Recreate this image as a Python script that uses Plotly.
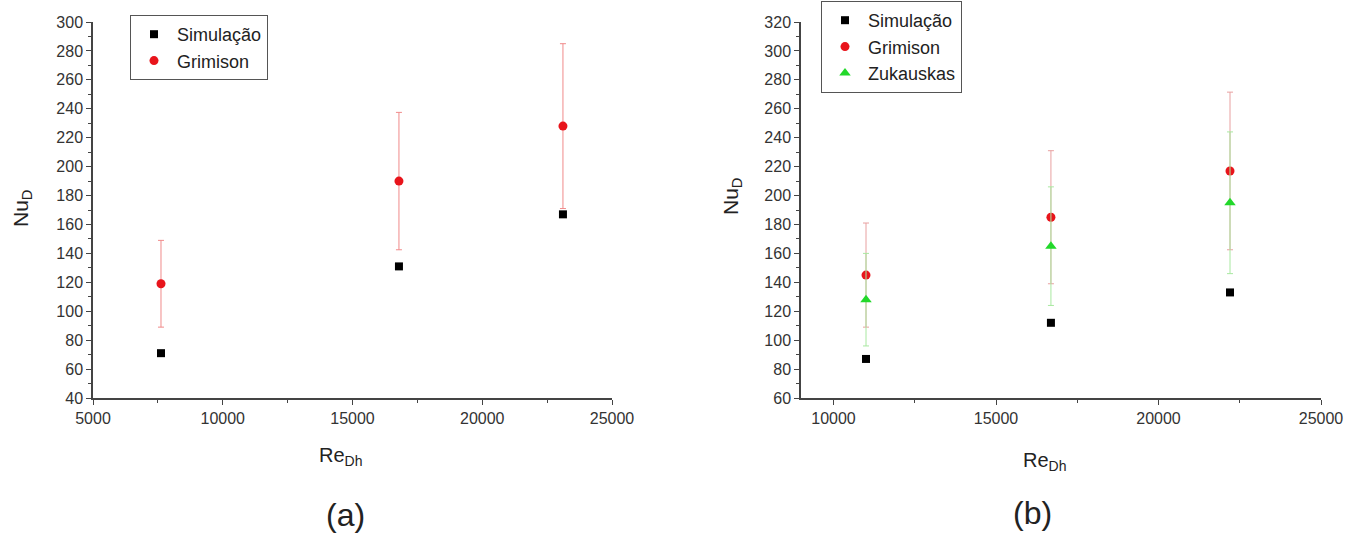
import plotly.graph_objects as go

W, H = 1358, 535

# ---------------- data: panel (a) ----------------
re_a = [7620, 16790, 23110]
sim_a = [71, 131, 167]
grim_a = [119, 190, 228]
grim_a_err = [30, 47.5, 57]

# ---------------- data: panel (b) ----------------
re_b = [11000, 16690, 22200]
sim_b = [87, 112, 133]
grim_b = [145, 185, 217]
grim_b_err = [36, 46, 54.5]
zuk_b = [128, 165, 195]
zuk_b_err = [32, 41, 49]

# tick values / labels
xticks_a = [5000, 10000, 15000, 20000, 25000]
xlabels_a = ["5000", "10000", "15000", "20000", "25000"]
yticks_a = list(range(40, 301, 20))
xticks_b = [10000, 15000, 20000, 25000]
xlabels_b = ["10000", "15000", "20000", "25000"]
yticks_b = list(range(60, 321, 20))

FONT = "Liberation Sans, Arial, sans-serif"
RED = "#e8141b"
GREEN = "#22d82a"

def px_x(p):
    return p / W

def px_y(p):
    return 1 - p / H

fig = go.Figure()

# panel (a)
fig.add_trace(go.Scatter(x=re_a, y=sim_a, mode="markers", name="Simulação",
                         marker=dict(symbol="square", size=8, color="black"),
                         xaxis="x", yaxis="y", legend="legend"))
fig.add_trace(go.Scatter(x=re_a, y=grim_a, mode="markers", name="Grimison",
                         marker=dict(symbol="circle", size=9, color=RED),
                         error_y=dict(type="data", array=grim_a_err, color="#f08a8a",
                                      thickness=1, width=3),
                         xaxis="x", yaxis="y", legend="legend"))

# panel (b)
fig.add_trace(go.Scatter(x=re_b, y=sim_b, mode="markers", name="Simulação",
                         marker=dict(symbol="square", size=8, color="black"),
                         xaxis="x2", yaxis="y2", legend="legend2"))
fig.add_trace(go.Scatter(x=re_b, y=grim_b, mode="markers", name="Grimison",
                         marker=dict(symbol="circle", size=9, color=RED),
                         error_y=dict(type="data", array=grim_b_err, color="#e8a0a0",
                                      thickness=1, width=3),
                         xaxis="x2", yaxis="y2", legend="legend2"))
fig.add_trace(go.Scatter(x=re_b, y=zuk_b, mode="markers", name="Zukauskas",
                         marker=dict(symbol="triangle-up", size=10, color=GREEN),
                         error_y=dict(type="data", array=zuk_b_err, color="#a8e8a0",
                                      thickness=1, width=3),
                         xaxis="x2", yaxis="y2", legend="legend2"))

axis_common = dict(showline=True, linecolor="#444", linewidth=1.5, ticks="outside",
                   ticklen=5, tickcolor="#444", tickwidth=1, showgrid=False, zeroline=False,
                   tickfont=dict(family=FONT, size=16, color="#333"), mirror=False,
                   automargin=False)

legend_common = dict(xanchor="left", yanchor="top", bordercolor="#555", borderwidth=1,
                     bgcolor="white", font=dict(family=FONT, size=18, color="#222"),
                     tracegroupgap=0, itemwidth=36)

fig.update_layout(
    width=W, height=H, margin=dict(l=0, r=0, t=0, b=0, pad=0, autoexpand=False),
    paper_bgcolor="white", plot_bgcolor="white",
    font=dict(family=FONT, color="#222"),
    xaxis=dict(domain=[px_x(93), px_x(612)], range=[5000, 25000],
               tickvals=xticks_a, ticktext=xlabels_a,
               minor=dict(ticks="outside", dtick=2500, tick0=5000, ticklen=3, tickcolor="#444"),
               anchor="y", **axis_common),
    yaxis=dict(domain=[px_y(398), px_y(22)], range=[40, 300], tickvals=yticks_a,
               minor=dict(ticks="outside", dtick=10, tick0=40, ticklen=3, tickcolor="#444"),
               anchor="x", **axis_common),
    xaxis2=dict(domain=[px_x(801), px_x(1321)], range=[9000, 25000],
                tickvals=xticks_b, ticktext=xlabels_b,
                minor=dict(ticks="outside", dtick=2500, tick0=10000, ticklen=3, tickcolor="#444"),
                anchor="y2", **axis_common),
    yaxis2=dict(domain=[px_y(398), px_y(22)], range=[60, 320], tickvals=yticks_b,
                minor=dict(ticks="outside", dtick=10, tick0=60, ticklen=3, tickcolor="#444"),
                anchor="x2", **axis_common),
    legend=dict(x=px_x(130), y=px_y(15), **legend_common),
    legend2=dict(x=px_x(821), y=px_y(1), **legend_common),
    showlegend=True,
)

ann = [
    dict(text="Nu<sub>D</sub>", x=px_x(22), y=px_y(209), textangle=-90, font_size=21),
    dict(text="Nu<sub>D</sub>", x=px_x(732), y=px_y(197), textangle=-90, font_size=21),
    dict(text="Re<sub>Dh</sub>", x=px_x(340), y=px_y(456), font_size=20),
    dict(text="Re<sub>Dh</sub>", x=px_x(1044), y=px_y(461), font_size=20),
    dict(text="(a)", x=px_x(345), y=px_y(515), font_size=32),
    dict(text="(b)", x=px_x(1032), y=px_y(513), font_size=32),
]
for a in ann:
    fig.add_annotation(xref="paper", yref="paper", showarrow=False,
                       xanchor="center", yanchor="middle",
                       font=dict(family=FONT, size=a.pop("font_size"), color="#222"), **a)

fig.write_html("out.html")
